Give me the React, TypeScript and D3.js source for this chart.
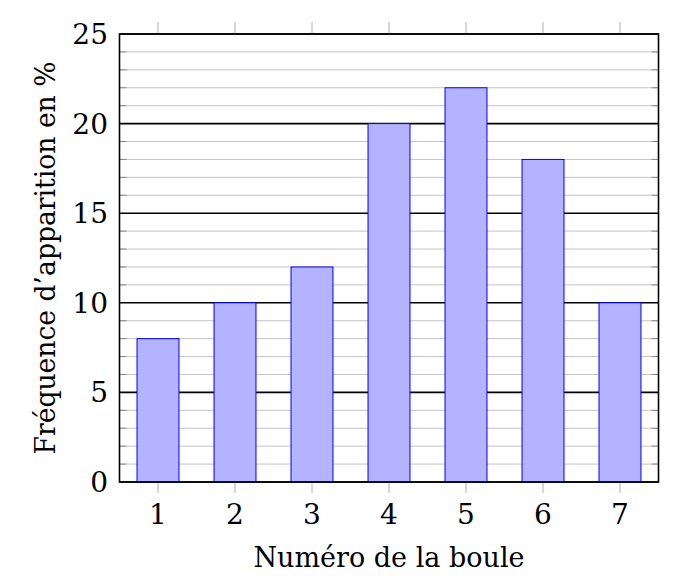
import React from "react";
import * as d3 from "d3";

const categories = [1, 2, 3, 4, 5, 6, 7];
const values = [8, 10, 12, 20, 22, 18, 10];
const yMajorTicks = [0, 5, 10, 15, 20, 25];
const yMinorTicks = d3.range(0, 26);
const xLabel = "Numéro de la boule";
const yLabel = "Fréquence d’apparition en %";

const W = 692;
const H = 587;
const M = { left: 119.5, right: 658.5, top: 34, bottom: 482 };
const FONT = "'DejaVu Serif', serif";

export default function App() {
  const x = d3.scaleLinear().domain([0.5, 7.5]).range([M.left, M.right]);
  const y = d3.scaleLinear().domain([0, 25]).range([M.bottom, M.top]);
  const bw = x(1.545) - x(1);
  return (
    <svg width={W} height={H} style={{ position: "absolute", left: 0, top: 0 }}>
      <rect x={0} y={0} width={W} height={H} fill="#fff" />
      {yMinorTicks.filter((v) => v % 5 !== 0).map((v) => (
        <g key={"mi" + v}>
          <line x1={M.left} x2={M.right} y1={y(v)} y2={y(v)} stroke="#c4c4c4" strokeWidth={1} />
          <line x1={M.left} x2={M.left + 7} y1={y(v)} y2={y(v)} stroke="#888" strokeWidth={1} />
          <line x1={M.right - 7} x2={M.right} y1={y(v)} y2={y(v)} stroke="#888" strokeWidth={1} />
        </g>
      ))}
      {yMajorTicks.map((v) => (
        <line key={"ma" + v} x1={M.left} x2={M.right} y1={y(v)} y2={y(v)} stroke="#000" strokeWidth={1.6} />
      ))}
      {categories.map((c) => (
        <g key={"xt" + c}>
          <line x1={x(c)} x2={x(c)} y1={M.bottom} y2={M.bottom + 11} stroke="#b0b0b0" strokeWidth={1} />
          <line x1={x(c)} x2={x(c)} y1={M.top - 12} y2={M.top} stroke="#b0b0b0" strokeWidth={1} />
        </g>
      ))}
      {categories.map((c, i) => (
        <rect
          key={"b" + c}
          x={x(c) - bw / 2}
          y={y(values[i])}
          width={bw}
          height={y(0) - y(values[i])}
          fill="#b3b3ff"
          stroke="#0000ff"
          strokeWidth={1}
        />
      ))}
      <rect
        x={M.left}
        y={M.top}
        width={M.right - M.left}
        height={M.bottom - M.top}
        fill="none"
        stroke="#000"
        strokeWidth={1.6}
      />
      {yMajorTicks.map((v) => (
        <text
          key={"yl" + v}
          x={108}
          y={y(v)}
          dy="0.36em"
          textAnchor="end"
          fontFamily={FONT}
          fontSize={28}
          fill="#000"
        >
          {v}
        </text>
      ))}
      {categories.map((c) => (
        <text
          key={"xl" + c}
          x={x(c)}
          y={514}
          dy="0.36em"
          textAnchor="middle"
          fontFamily={FONT}
          fontSize={28}
          fill="#000"
        >
          {c}
        </text>
      ))}
      <text
        x={(M.left + M.right) / 2}
        y={567}
        textAnchor="middle"
        fontFamily={FONT}
        fontSize={28}
        textLength={271}
        lengthAdjust="spacingAndGlyphs"
        fill="#000"
      >
        {xLabel}
      </text>
      <text
        transform={`translate(55,${(M.top + M.bottom) / 2}) rotate(-90)`}
        textAnchor="middle"
        fontFamily={FONT}
        fontSize={28}
        textLength={393}
        lengthAdjust="spacingAndGlyphs"
        fill="#000"
      >
        {yLabel}
      </text>
    </svg>
  );
}
